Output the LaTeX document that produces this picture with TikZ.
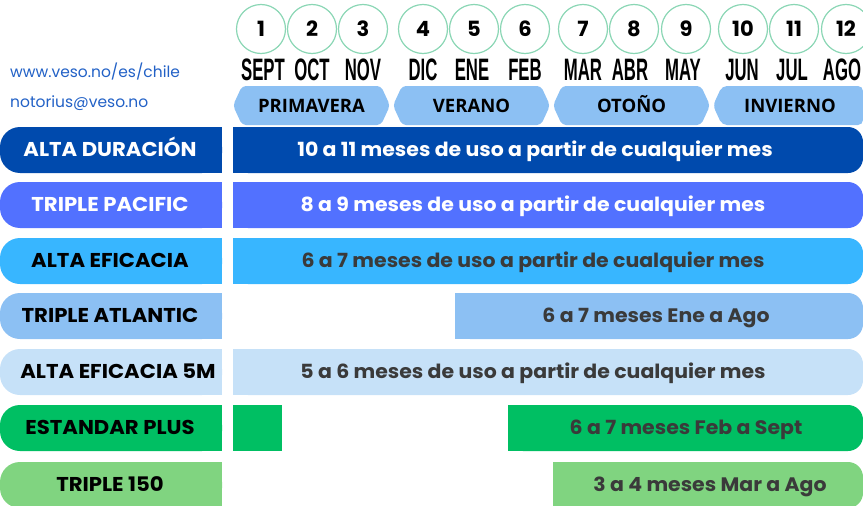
\documentclass[tikz,border=0pt]{standalone}
\usepackage{fontspec}
\usepackage{graphicx}
\setmainfont{Poppins}
\newfontfamily\monthfont{Liberation Sans}
\newfontfamily\seasonfont{Open Sans}
\definecolor{durblue}{HTML}{004AAD}
\definecolor{pacblue}{HTML}{5271FF}
\definecolor{eficblue}{HTML}{38B6FF}
\definecolor{atlblue}{HTML}{8CC0F3}
\definecolor{paleblue}{HTML}{C6E1F8}
\definecolor{stdgreen}{HTML}{00BF63}
\definecolor{tripgreen}{HTML}{80D480}
\definecolor{mint}{HTML}{8AD6B4}
\definecolor{linkblue}{HTML}{2261C6}
\definecolor{bargray}{HTML}{3A3A3A}
\tikzset{
  mescirc/.style={circle, draw=mint, line width=1.2pt, minimum size=49pt, inner sep=0pt,
    font=\bfseries\fontsize{21}{21}\selectfont},
  meslbl/.style={inner sep=0pt, anchor=base, font=\monthfont\bfseries\fontsize{31}{31}\selectfont},
  seasontxt/.style={inner sep=0pt, anchor=base, font=\seasonfont\bfseries\fontsize{18.5}{18.5}\selectfont},
  lbltxt/.style={inner sep=0pt, anchor=base, font=\bfseries\fontsize{20}{20}\selectfont},
  bartxt/.style={inner sep=0pt, anchor=base, font=\bfseries\fontsize{19.5}{19.5}\selectfont},
  link/.style={inner sep=0pt, anchor=west, text=linkblue, font=\fontsize{15.5}{15.5}\selectfont}
}
\begin{document}
\begin{tikzpicture}[x=1pt, y=-1pt]
\useasboundingbox (0,0) rectangle (863,506);
% contact
\node[link] (web) at (10,72) {www.veso.no/es/chile};
\node[link] (mail) at (10,103) {notorius@veso.no};
% months
\foreach \n/\x/\mx/\m in {1/261/263/SEPT, 2/312/312/OCT, 3/363/363/NOV, 4/423/423/DIC,
  5/474/472/ENE, 6/525/525/FEB, 7/583/583/MAR, 8/634/630/ABR, 9/686/683/MAY,
  10/743/742/JUN, 11/794/792/JUL, 12/846/842/AGO}
{
    \node[mescirc] (mes\n) at (\x,29) {\n};
    \node[meslbl] (nom\n) at (\mx,80) {\scalebox{0.54}[1]{\m}};
}
% seasons
\foreach \a/\b/\s/\nm in {233/390/PRIMAVERA/prim, 393/550/VERANO/ver, 553/710/OTOÑO/oto}
{
    \fill[atlblue, rounded corners=4pt] (\a,105.5) -- (\a+9,86) -- (\b-9,86) -- (\b,105.5)
      -- (\b-9,125) -- (\a+9,125) -- cycle;
    \node[seasontxt] (\nm) at ({(\a+\b)/2},112.5) {\s};
}
\fill[atlblue, rounded corners=5pt] (713,105.5) -- (722,86) -- (863,86) -- (863,125)
  -- (722,125) -- cycle;
\node[seasontxt] (inv) at (790,112.5) {INVIERNO};
% products
\foreach \i/\y/\c/\tc/\bc/\lx/\name/\bs/\tx/\txt in {
  1/150/durblue/white/white/110/ALTA DURACIÓN/233/535/10 a 11 meses de uso a partir de cualquier mes,
  2/205/pacblue/white/white/110/TRIPLE PACIFIC/233/533/8 a 9 meses de uso a partir de cualquier mes,
  3/261/eficblue/black/bargray/110/ALTA EFICACIA/233/533/6 a 7 meses de uso a partir de cualquier mes,
  4/316/atlblue/black/bargray/110/TRIPLE ATLANTIC/455/656/6 a 7 meses Ene a Ago,
  5/372/paleblue/black/bargray/118/ALTA EFICACIA 5M/233/533/5 a 6 meses de uso a partir de cualquier mes,
  6/428/stdgreen/black/bargray/110/ESTANDAR PLUS/508/686/6 a 7 meses Feb a Sept,
  7/485/tripgreen/black/bargray/110/TRIPLE 150/553/710/3 a 4 meses Mar a Ago}
{
    \fill[\c, rounded corners=20pt] (0,\y-23) rectangle (222,\y+23);
    \fill[\c] (40,\y-23) rectangle (222,\y+23);
    \node[lbltxt, text=\tc] (prod\i) at (\lx,\y+6.5) {\scalebox{1.06}[1]{\name}};
    \fill[\c, rounded corners=15pt] (\bs,\y-23) rectangle (863,\y+23);
    \fill[\c] (\bs,\y-23) rectangle (840,\y+23);
    \node[bartxt, text=\bc] (uso\i) at (\tx,\y+6.5) {\scalebox{1.05}[1]{\txt}};
}
\fill[stdgreen] (233,405) rectangle (282,451);
\end{tikzpicture}
\end{document}
